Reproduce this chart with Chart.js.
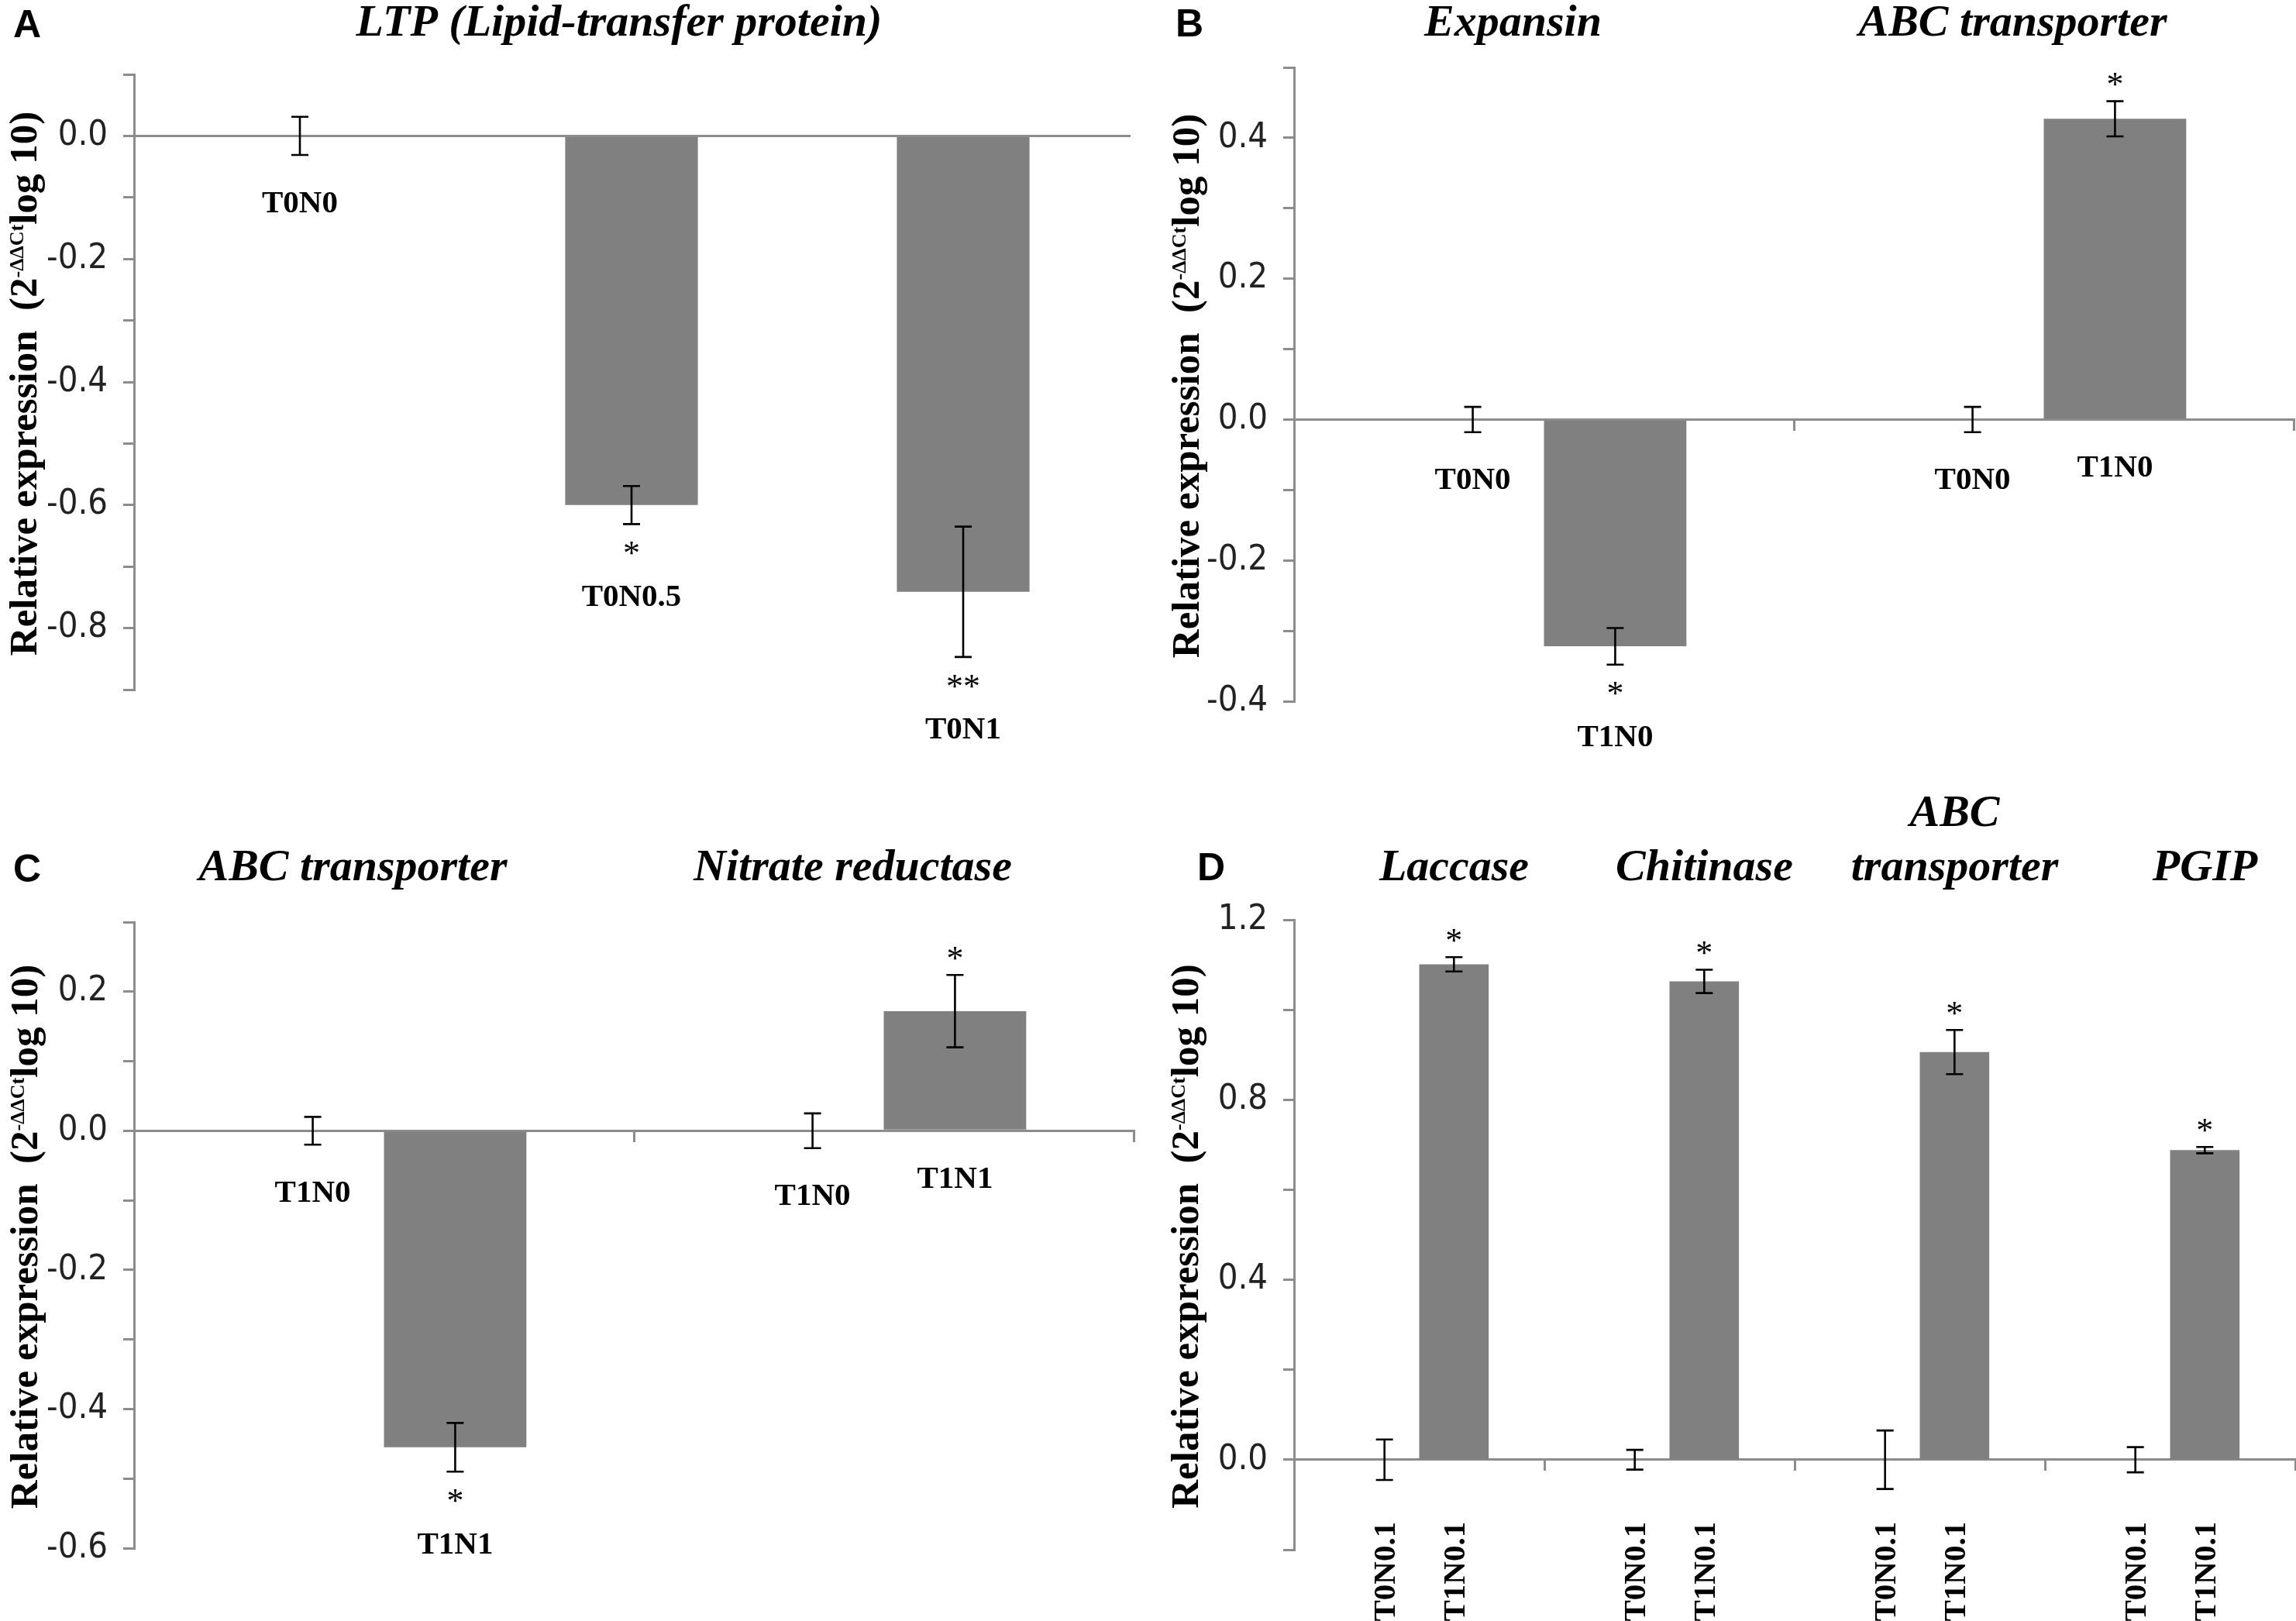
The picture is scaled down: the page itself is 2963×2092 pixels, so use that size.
<!DOCTYPE html>
<html>
<head>
<meta charset="utf-8">
<script src="https://cdn.jsdelivr.net/npm/chart.js@4.4.0/dist/chart.umd.min.js"></script>
<style>
html,body{margin:0;padding:0;background:#fff;}
body{width:2963px;height:2092px;position:relative;overflow:hidden;}
canvas{position:absolute;}
</style>
</head>
<body>
<canvas id="cA" width="1481" height="1000" style="left:0px;top:0px"></canvas>
<canvas id="cB" width="1482" height="1000" style="left:1481px;top:0px"></canvas>
<canvas id="cC" width="1481" height="1092" style="left:0px;top:1000px"></canvas>
<canvas id="cD" width="1482" height="1092" style="left:1481px;top:1000px"></canvas>
<script>
// ---------------- DATA ----------------
// Panel A: LTP (Lipid-transfer protein)
const aTitle = 'LTP (Lipid-transfer protein)';
const aCategories = ['T0N0', 'T0N0.5', 'T0N1'];
const aValues = [0, -0.600, -0.741];
const aErrors = [0.031, 0.031, 0.106];
const aStars = ['', '*', '**'];
const aRange = [-0.9, 0.1];
const aTickLabels = ['0.0', '-0.2', '-0.4', '-0.6', '-0.8'];

// Panel B
const bGenes = ['Expansin', 'ABC transporter'];
const bControlLabels = ['T0N0', 'T0N0'];
const bTreatLabels = ['T1N0', 'T1N0'];
const bControl = [0, 0];
const bControlErr = [0.018, 0.018];
const bTreat = [-0.322, 0.427];
const bTreatErr = [0.026, 0.025];
const bStars = ['*', '*'];
const bRange = [-0.4, 0.5];
const bTickLabels = ['0.4', '0.2', '0.0', '-0.2', '-0.4'];

// Panel C
const cGenes = ['ABC transporter', 'Nitrate reductase'];
const cControlLabels = ['T1N0', 'T1N0'];
const cTreatLabels = ['T1N1', 'T1N1'];
const cControl = [0, 0];
const cControlErr = [0.020, 0.025];
const cTreat = [-0.455, 0.172];
const cTreatErr = [0.035, 0.052];
const cStars = ['*', '*'];
const cRange = [-0.6, 0.3];
const cTickLabels = ['0.2', '0.0', '-0.2', '-0.4', '-0.6'];

// Panel D
const dGenes = ['Laccase', 'Chitinase', ['ABC', 'transporter'], 'PGIP'];
const dControlLabels = ['T0N0.1', 'T0N0.1', 'T0N0.1', 'T0N0.1'];
const dTreatLabels = ['T1N0.1', 'T1N0.1', 'T1N0.1', 'T1N0.1'];
const dControl = [0, 0, 0, 0];
const dControlErr = [0.045, 0.022, 0.065, 0.028];
const dTreat = [1.101, 1.063, 0.906, 0.688];
const dTreatErr = [0.016, 0.026, 0.049, 0.007];
const dStars = ['*', '*', '*', '*'];
const dRange = [-0.2, 1.2];
const dTickLabels = ['1.2', '0.8', '0.4', '0.0'];

// ---------------- STYLE ----------------
const GRAY = '#8c8c8c';
const BAR = '#808080';
const TICK_FONT = "'Liberation Sans Narrow', 'DejaVu Sans Condensed', 'Liberation Sans', sans-serif";
const SERIF = "'Liberation Serif', 'DejaVu Serif', serif";
const SANS = "'Liberation Sans', 'DejaVu Sans', sans-serif";

function annotPlugin(cfg) {
  return {
    id: 'annot_' + cfg.letter,
    afterDatasetsDraw(chart) {
      const ctx = chart.ctx;
      const y = chart.scales.y;
      const zeroPx = y.getPixelForValue(0);
      ctx.save();
      chart.data.datasets.forEach((ds, di) => {
        const meta = chart.getDatasetMeta(di);
        meta.data.forEach((bar, i) => {
          const v = ds.data[i], e = ds.errors[i];
          const xc = bar.x;
          const yT = y.getPixelForValue(v + e);
          const yB = y.getPixelForValue(v - e);
          ctx.strokeStyle = '#000';
          ctx.lineWidth = 2.6;
          ctx.beginPath();
          ctx.moveTo(xc, yT); ctx.lineTo(xc, yB);
          ctx.moveTo(xc - 11, yT); ctx.lineTo(xc + 11, yT);
          ctx.moveTo(xc - 11, yB); ctx.lineTo(xc + 11, yB);
          ctx.stroke();
          ctx.fillStyle = '#000';
          ctx.textAlign = 'center';
          ctx.textBaseline = 'alphabetic';
          const star = ds.stars ? ds.stars[i] : '';
          if (star) {
            ctx.font = '44px ' + SERIF;
            const cy = v > 0 ? yT - 28 : yB + 31;
            ctx.fillText(star, xc, cy + 0.47 * 44);
          }
          const lab = ds.barLabels[i];
          ctx.font = 'bold 41px ' + SERIF;
          if (cfg.rotatedLabels) {
            ctx.save();
            ctx.translate(xc, zeroPx + 80);
            ctx.rotate(-Math.PI / 2);
            ctx.textAlign = 'right';
            ctx.fillText(lab, 0, 0.33 * 41);
            ctx.restore();
          } else {
            const cy = (v < 0 && star) ? yB + 92 : (v > 0 ? zeroPx : yB) + 60;
            ctx.fillText(lab, xc, cy + 0.33 * 41);
          }
        });
      });
      ctx.restore();
    },
    afterDraw(chart) {
      const ctx = chart.ctx;
      const ca = chart.chartArea;
      const x = chart.scales.x;
      ctx.save();
      ctx.fillStyle = '#000';
      ctx.textBaseline = 'alphabetic';
      // panel letter
      ctx.font = 'bold 50px ' + SANS;
      ctx.textAlign = 'left';
      ctx.fillText(cfg.letter, cfg.letterX, cfg.letterY);
      // titles
      ctx.font = 'italic bold 58px ' + SERIF;
      ctx.textAlign = 'center';
      if (cfg.singleTitle) {
        ctx.fillText(cfg.singleTitle, (ca.left + ca.right) / 2 + cfg.titleShift, cfg.titleY);
      } else {
        chart.data.labels.forEach((t, i) => {
          const px = x.getPixelForValue(i) + cfg.titleShift;
          if (Array.isArray(t)) {
            t.forEach((line, k) => {
              ctx.fillText(line, px, cfg.titleY - (t.length - 1 - k) * 70);
            });
          } else {
            ctx.fillText(t, px, cfg.titleY);
          }
        });
      }
      // y-axis title
      const cy = (ca.top + ca.bottom) / 2 + 2;
      ctx.translate(cfg.yTitleX, cy);
      ctx.rotate(-Math.PI / 2);
      const parts = [
        {t: 'Relative expression  (2', f: 'bold 51px ' + SERIF, dy: 0},
        {t: '-\u0394\u0394Ct', f: 'bold 26px ' + SERIF, dy: -17},
        {t: 'log 10)', f: 'bold 51px ' + SERIF, dy: 0}
      ];
      let total = 0;
      parts.forEach(p => { ctx.font = p.f; p.w = ctx.measureText(p.t).width; total += p.w; });
      let px = -total / 2;
      ctx.textAlign = 'left';
      parts.forEach(p => { ctx.font = p.f; ctx.fillText(p.t, px, p.dy); px += p.w; });
      ctx.restore();
    }
  };
}

function makeChart(id, o) {
  const labelsCount = o.labels.length;
  return new Chart(document.getElementById(id), {
    type: 'bar',
    data: { labels: o.labels, datasets: o.datasets },
    options: {
      responsive: false,
      animation: false,
      devicePixelRatio: 1,
      events: [],
      layout: { padding: o.padding },
      datasets: { bar: { barPercentage: o.barPct, categoryPercentage: o.catPct } },
      plugins: { legend: { display: false }, tooltip: { enabled: false }, title: { display: false } },
      scales: {
        x: {
          type: 'category',
          position: { y: 0 },
          offset: true,
          afterFit(s) { s.height = 0; },
          ticks: { display: false },
          grid: {
            display: o.xTicks,
            offset: true,
            drawOnChartArea: false,
            drawTicks: true,
            tickLength: 13,
            lineWidth: 3,
            color: (c) => (c.index === 0 || c.index === labelsCount) ? 'rgba(0,0,0,0)' : GRAY
          },
          border: { display: true, color: GRAY, width: 3 }
        },
        y: {
          min: o.range[0],
          max: o.range[1],
          afterFit(s) { s.width = o.yWidth; },
          ticks: {
            stepSize: o.step,
            autoSkip: false,
            padding: 20,
            color: '#222',
            font: { family: TICK_FONT, size: 45 },
            callback: (v) => {
              const s = (Math.abs(v) < 1e-9 ? 0 : v).toFixed(1);
              return o.tickLabels.includes(s) ? s : '';
            }
          },
          grid: { drawOnChartArea: false, drawTicks: true, tickLength: 14, lineWidth: 3, color: GRAY },
          border: { display: true, color: GRAY, width: 3 }
        }
      }
    },
    plugins: [annotPlugin(o.annot)]
  });
}

function ds(values, errors, labels, stars) {
  return { data: values, errors: errors, barLabels: labels, stars: stars, backgroundColor: BAR, borderWidth: 0 };
}

// Panel A
makeChart('cA', {
  labels: aCategories,
  datasets: [ds(aValues, aErrors, aCategories, aStars)],
  range: aRange, step: 0.1, tickLabels: aTickLabels,
  padding: { top: 96, right: 24, bottom: 110, left: 0 }, yWidth: 173,
  barPct: 0.4, catPct: 1.0, xTicks: false,
  annot: { letter: 'A', letterX: 17, letterY: 48, singleTitle: aTitle, titleShift: -16, titleY: 46, yTitleX: 47 }
});

// Panel B
makeChart('cB', {
  labels: bGenes,
  datasets: [ds(bControl, bControlErr, bControlLabels, null), ds(bTreat, bTreatErr, bTreatLabels, bStars)],
  range: bRange, step: 0.1, tickLabels: bTickLabels,
  padding: { top: 87, right: 3, bottom: 95, left: 0 }, yWidth: 189,
  barPct: 1.0, catPct: 0.57, xTicks: true,
  annot: { letter: 'B', letterX: 36, letterY: 47, titleShift: -40, titleY: 46, yTitleX: 66 }
});

// Panel C
makeChart('cC', {
  labels: cGenes,
  datasets: [ds(cControl, cControlErr, cControlLabels, null), ds(cTreat, cTreatErr, cTreatLabels, cStars)],
  range: cRange, step: 0.1, tickLabels: cTickLabels,
  padding: { top: 190, right: 18, bottom: 94, left: 0 }, yWidth: 173,
  barPct: 1.0, catPct: 0.57, xTicks: true,
  annot: { letter: 'C', letterX: 17, letterY: 138, titleShift: -40, titleY: 136, yTitleX: 48 }
});

// Panel D
makeChart('cD', {
  labels: dGenes,
  datasets: [ds(dControl, dControlErr, dControlLabels, null), ds(dTreat, dTreatErr, dTreatLabels, dStars)],
  range: dRange, step: 0.2, tickLabels: dTickLabels,
  padding: { top: 187, right: 1, bottom: 92, left: 0 }, yWidth: 189,
  barPct: 1.0, catPct: 0.555, xTicks: true,
  annot: { letter: 'D', letterX: 64, letterY: 136, titleShift: 45, titleY: 136, yTitleX: 65, rotatedLabels: true }
});
</script>
</body>
</html>
